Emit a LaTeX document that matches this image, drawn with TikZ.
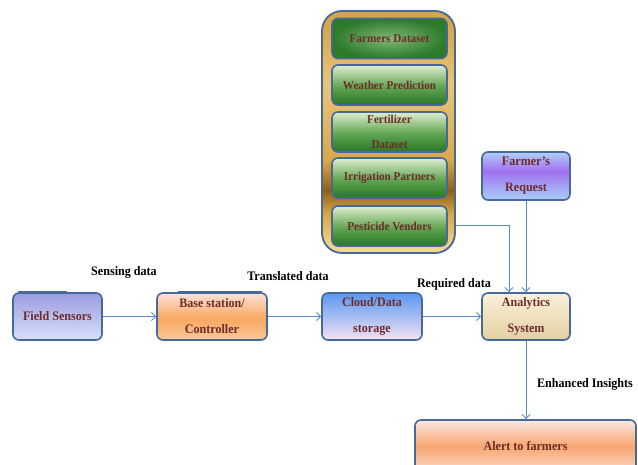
\documentclass[tikz,border=0pt]{standalone}
\usepackage{fontspec}
\setmainfont[FakeStretch=0.93]{Liberation Serif}
\usetikzlibrary{arrows.meta}
\definecolor{bord}{HTML}{46699A}
\definecolor{arr}{HTML}{5B8BC9}
\definecolor{txt}{HTML}{6E2B2B}
\definecolor{gold1}{HTML}{F6DC98}
\definecolor{gold2}{HTML}{D9A849}
\definecolor{gold3}{HTML}{8E5E18}
\definecolor{gold4}{HTML}{E9C47C}
\definecolor{gold5}{HTML}{D7A54A}
\definecolor{g1}{HTML}{2C7A2A}
\definecolor{g2}{HTML}{62A552}
\definecolor{g3}{HTML}{D6E9C6}
\definecolor{fsT}{HTML}{9C9CE0}
\definecolor{fsB}{HTML}{D8E0FB}
\definecolor{bsT}{HTML}{FDE2D8}
\definecolor{bsM}{HTML}{F8A860}
\definecolor{bsB}{HTML}{FBC89A}
\definecolor{frT}{HTML}{B0D0F8}
\definecolor{frM}{HTML}{A070F0}
\definecolor{frB}{HTML}{A8D0F8}
\definecolor{anT}{HTML}{FBF1DA}
\definecolor{anB}{HTML}{E2CFA2}
\definecolor{clT}{HTML}{5898F0}
\definecolor{clB}{HTML}{F4E2F4}
\definecolor{alT}{HTML}{FCE8E6}
\definecolor{alM}{HTML}{F8A670}
\definecolor{alB}{HTML}{FCD8C8}
\pgfdeclareverticalshading{goldshade}{100bp}{color(0bp)=(gold1); color(25bp)=(gold1); color(33bp)=(gold2); color(38bp)=(gold3); color(44bp)=(gold2); color(60bp)=(gold4); color(72bp)=(gold5); color(75bp)=(gold5); color(100bp)=(gold5)}
\pgfdeclareverticalshading{greenshade}{100bp}{color(0bp)=(g1); color(27bp)=(g1); color(48bp)=(g2); color(73bp)=(g3); color(100bp)=(g3)}
\pgfdeclareverticalshading{bsshade}{100bp}{color(0bp)=(bsB); color(25bp)=(bsB); color(48bp)=(bsM); color(75bp)=(bsT); color(100bp)=(bsT)}
\pgfdeclareverticalshading{frshade}{100bp}{color(0bp)=(frB); color(25bp)=(frB); color(55bp)=(frM); color(75bp)=(frT); color(100bp)=(frT)}
\pgfdeclareverticalshading{alshade}{100bp}{color(0bp)=(alB); color(25bp)=(alB); color(50bp)=(alM); color(75bp)=(alT); color(100bp)=(alT)}
\begin{document}
\begin{tikzpicture}[x=1pt,y=-1pt,
  bfont/.style={font=\bfseries\fontsize{13}{15}\selectfont},
  sfont/.style={font=\bfseries\fontsize{12}{14}\selectfont},
  box/.style={bfont, draw=bord, line width=1.6pt, rounded corners=6pt, text=txt, align=center, inner sep=0pt},
  gbox/.style={box, sfont, minimum width=115pt, minimum height=40pt, shading=greenshade},
  lab/.style={bfont, text=black, inner sep=0pt},
  conn/.style={draw=arr, line width=1pt, -{Straight Barb[length=4pt,width=8pt]}}]
\useasboundingbox (0,0) rectangle (638,465);
\clip (0,0) rectangle (638,465);
% container
\node[draw=bord, line width=1.8pt, rounded corners=20pt, minimum width=133pt, minimum height=242pt, shading=goldshade] (outer) at (388.5,132) {};
\node[box, sfont, minimum width=115pt, minimum height=40pt, inner color=g2!80!white, outer color=g1] (fd) at (389.5,38.5) {Farmers Dataset};
\node[gbox] (wp) at (389.5,85) {Weather Prediction};
\node[gbox] (fe) at (389.5,132) {Fertilizer\\[11pt]Dataset};
\node[gbox] (ip) at (389.5,178) {Irrigation Partners};
\node[gbox] (pv) at (389.5,226) {Pesticide Vendors};
% main boxes
\node[box, minimum width=88pt, minimum height=48pt, shading=frshade] (fr) at (526,176) {Farmer's\\[11pt]Request};
\node[box, minimum width=88pt, minimum height=47pt, top color=anT, bottom color=anB] (an) at (526,316.5) {Analytics\\[11pt]System};
\node[box, minimum width=100pt, minimum height=47pt, top color=clT, bottom color=clB] (cl) at (372,316.5) {Cloud/Data\\[11pt]storage};
\node[box, minimum width=110pt, minimum height=47pt, shading=bsshade] (bs) at (212,316.5) {Base station/\\[11pt]Controller};
\node[box, minimum width=89pt, minimum height=47pt, top color=fsT, bottom color=fsB] (fs) at (57.5,316.5) {Field Sensors};
\node[box, minimum width=221pt, minimum height=52pt, shading=alshade] (al) at (525.5,446) {Alert to farmers};
% tabs
\draw[bord, line width=1.2pt] ([xshift=6pt,yshift=1pt]fs.north west) -- ([xshift=55pt,yshift=1pt]fs.north west);
\draw[bord, line width=1.2pt] ([xshift=22pt,yshift=1pt]bs.north west) -- ([xshift=-6pt,yshift=1pt]bs.north east);
% labels
\node[lab] (l1) at (124,272) {Sensing data};
\node[lab] (l2) at (288,276) {Translated data};
\node[lab] (l3) at (454,284) {Required data};
\node[lab] (l4) at (585,384) {Enhanced Insights};
% connectors
\draw[conn] (fs) -- (bs);
\draw[conn] (bs) -- (cl);
\draw[conn] (cl) -- (an);
\draw[conn] (pv -| outer.east) -| ([xshift=-17pt]an.north);
\draw[conn] (fr) -- (an);
\draw[conn] (an.south) -- (an.south |- al.north);
\end{tikzpicture}
\end{document}
